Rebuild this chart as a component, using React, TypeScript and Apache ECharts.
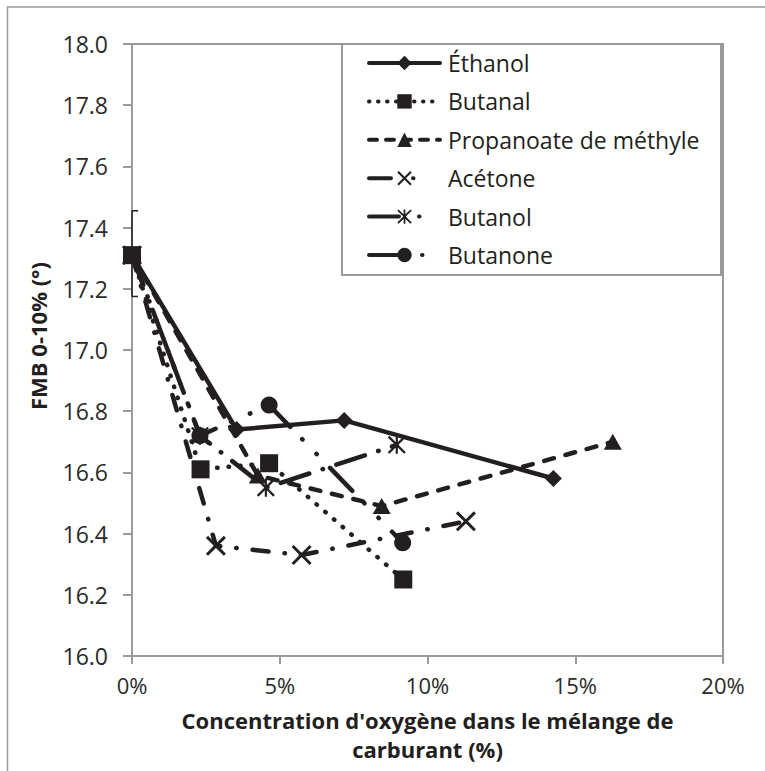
import React, { useEffect, useRef } from "react";
import * as echarts from "echarts";

// Oxygen concentration in the fuel blend (%) and FMB 0-10% (°) for each oxygenate
const ethanolX = [0, 3.54, 7.18, 14.26];
const ethanolY = [17.31, 16.74, 16.77, 16.58];
const butanalX = [0, 2.32, 4.64, 9.18];
const butanalY = [17.31, 16.61, 16.63, 16.25];
const propanoateX = [0, 4.26, 8.45, 16.27];
const propanoateY = [17.31, 16.59, 16.49, 16.7];
const acetoneX = [0, 2.84, 5.74, 11.3];
const acetoneY = [17.31, 16.36, 16.33, 16.44];
const butanolX = [0, 2.3, 4.53, 8.96];
const butanolY = [17.31, 16.72, 16.55, 16.69];
const butanoneX = [0, 2.3, 4.64, 9.16];
const butanoneY = [17.31, 16.72, 16.82, 16.37];

// Uncertainty of the reference fuel
const errorBarX = [0];
const errorBarLow = [17.175];
const errorBarHigh = [17.455];

const seriesNames = [
  "Éthanol",
  "Butanal",
  "Propanoate de méthyle",
  "Acétone",
  "Butanol",
  "Butanone",
];

const xTitleLines = ["Concentration d'oxygène dans le mélange de", "carburant (%)"];
const yTitle = "FMB 0-10% (°)";

const INK = "#231f20";
const GRAY = "#9a9a9a";
const FONT = '"Open Sans", "Liberation Sans", sans-serif';

const CROSS =
  "path://M0 2.1L2.1 0L10 7.9L17.9 0L20 2.1L12.1 10L20 17.9L17.9 20L10 12.1L2.1 20L0 17.9L7.9 10Z";
const STAR =
  "path://M0 1.8L1.8 0L10 8.2L18.2 0L20 1.8L11.8 10L20 18.2L18.2 20L10 11.8L1.8 20L0 18.2L8.2 10Z M8.8 0L11.2 0L11.2 20L8.8 20Z";

// dash patterns: plot lines and legend samples
const DASHES: any[] = [
  "solid",
  [0.5, 11],
  [10, 12],
  [16, 16, 0.5, 16],
  [30, 14, 0.5, 14],
  [32, 17, 0.5, 20, 0.5, 19],
];
const LEGEND_DASHES: any[] = [
  "solid",
  [0.5, 8.5],
  [8, 9],
  [22, 22, 0.5, 30],
  [30, 20, 0.5, 30],
  [30, 23, 0.5, 30],
];

const pairs = (xs: number[], ys: number[]) => xs.map((x, i) => [x, ys[i]]);

const lineSeries = (
  name: string,
  xs: number[],
  ys: number[],
  symbol: string,
  symbolSize: number | number[],
  dash: any
) => ({
  name,
  type: "line",
  data: pairs(xs, ys),
  symbol,
  symbolSize,
  showSymbol: true,
  silent: true,
  itemStyle: { color: INK },
  lineStyle: { color: INK, width: 4.5, type: dash, cap: "round", join: "round" },
  z: 2,
});

export default function App() {
  const ref = useRef<HTMLDivElement>(null);

  useEffect(() => {
    if (!ref.current) return;
    const chart = echarts.init(ref.current, null, { renderer: "svg" });

    const titleText = (text: string, y: number) => ({
      type: "text",
      x: 427.5,
      y,
      style: {
        text,
        fontFamily: FONT,
        fontSize: 22,
        fontWeight: "bold",
        lineHeight: 22,
        fill: INK,
        align: "center",
        verticalAlign: "middle",
      },
    });

    const option: any = {
      animation: false,
      backgroundColor: "#fff",
      textStyle: { fontFamily: FONT },
      grid: {
        left: 132,
        top: 44,
        right: 42,
        bottom: 115,
        show: true,
        borderColor: GRAY,
        borderWidth: 2,
        backgroundColor: "transparent",
      },
      xAxis: {
        type: "value",
        min: 0,
        max: 20,
        interval: 5,
        axisLine: { show: true, lineStyle: { color: GRAY, width: 2 } },
        axisTick: { show: true, inside: false, length: 8, lineStyle: { color: GRAY, width: 2 } },
        splitLine: { show: false },
        axisLabel: {
          margin: 18,
          fontSize: 22,
          lineHeight: 22,
          color: "#2b2b2b",
          fontFamily: FONT,
          formatter: (v: number) => `${v}%`,
        },
      },
      yAxis: {
        type: "value",
        min: 16,
        max: 18,
        interval: 0.2,
        axisLine: { show: true, lineStyle: { color: GRAY, width: 2 } },
        axisTick: { show: true, inside: false, length: 9, lineStyle: { color: GRAY, width: 2 } },
        splitLine: { show: false },
        axisLabel: {
          margin: 24,
          fontSize: 23,
          color: "#2b2b2b",
          fontFamily: FONT,
          formatter: (v: number) => v.toFixed(1),
        },
      },
      legend: {
        data: seriesNames.map((name, i) => ({
          name,
          lineStyle: { width: 4, type: LEGEND_DASHES[i], cap: "round", color: INK },
        })),
        orient: "vertical",
        left: 342,
        top: 44,
        padding: [7.5, 0, 0, 25],
        itemWidth: 71,
        itemHeight: 18,
        itemGap: 15.4,
        z: 5,
        textStyle: {
          fontFamily: FONT,
          fontSize: 23,
          color: INK,
          padding: [0, 0, 0, 3],
        },
        selectedMode: false,
      },
      graphic: [
        {
          type: "rect",
          z: -10,
          shape: { x: 7.5, y: 7, width: 800, height: 800 },
          style: { fill: "none", stroke: GRAY, lineWidth: 1.5 },
        },
        {
          type: "rect",
          z: 3,
          shape: { x: 342, y: 44, width: 379, height: 231 },
          style: { fill: "#fff", stroke: GRAY, lineWidth: 2 },
        },
        {
          type: "text",
          x: 38,
          y: 336,
          rotation: Math.PI / 2,
          style: {
            text: yTitle,
            fontFamily: FONT,
            fontSize: 22,
            fontWeight: "bold",
            fill: INK,
            align: "center",
            verticalAlign: "middle",
          },
        },
        titleText(xTitleLines[0], 720),
        titleText(xTitleLines[1], 749),
      ],
      series: [
        {
          name: "erreur",
          type: "custom",
          silent: true,
          z: 1,
          data: errorBarX.map((x, i) => [x, errorBarLow[i], errorBarHigh[i]]),
          encode: { x: 0, y: [1, 2] },
          renderItem: (_params: any, api: any) => {
            const lo = api.coord([api.value(0), api.value(1)]);
            const hi = api.coord([api.value(0), api.value(2)]);
            const style = { stroke: INK, lineWidth: 1.5 };
            return {
              type: "group",
              children: [
                { type: "line", shape: { x1: lo[0], y1: lo[1], x2: hi[0], y2: hi[1] }, style },
                { type: "line", shape: { x1: lo[0], y1: lo[1], x2: lo[0] + 6, y2: lo[1] }, style },
                { type: "line", shape: { x1: hi[0], y1: hi[1], x2: hi[0] + 6, y2: hi[1] }, style },
              ],
            };
          },
        },
        lineSeries(seriesNames[0], ethanolX, ethanolY, "diamond", 17, DASHES[0]),
        lineSeries(seriesNames[1], butanalX, butanalY, "rect", 18, DASHES[1]),
        lineSeries(seriesNames[2], propanoateX, propanoateY, "triangle", [18, 16], DASHES[2]),
        lineSeries(seriesNames[3], acetoneX, acetoneY, CROSS, 20, DASHES[3]),
        lineSeries(seriesNames[4], butanolX, butanolY, STAR, 18, DASHES[4]),
        lineSeries(seriesNames[5], butanoneX, butanoneY, "circle", 17, DASHES[5]),
      ],
    };

    chart.setOption(option);
    return () => chart.dispose();
  }, []);

  return (
    <div
      ref={ref}
      style={{ position: "fixed", left: 0, top: 0, width: 765, height: 771, background: "#fff" }}
    />
  );
}
